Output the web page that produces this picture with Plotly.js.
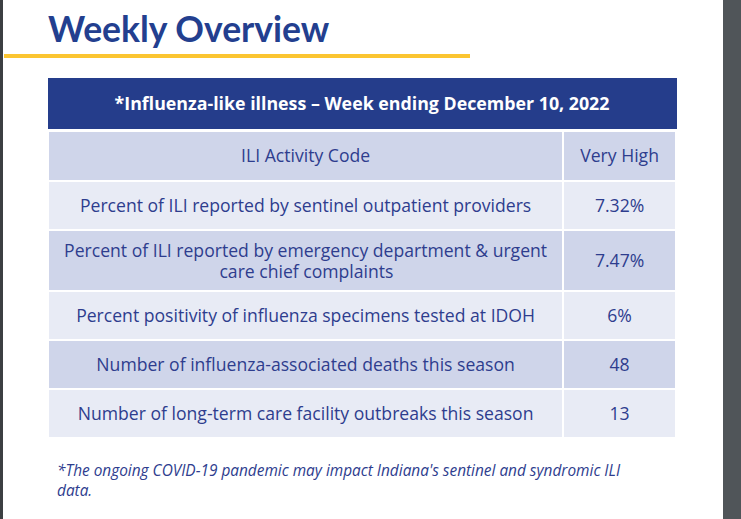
<!DOCTYPE html>
<html>
<head>
<meta charset="utf-8">
<script src="https://cdn.plot.ly/plotly-3.0.1.min.js"></script>
<style>html,body{margin:0;padding:0;background:#fff;}#chart{width:741px;height:519px;}</style>
</head>
<body>
<div id="chart"></div>
<script>
const pageTitle = "Weekly Overview";
const tableTitle = "*Influenza-like illness – Week ending December 10, 2022";
const headerLabels = ["ILI Activity Code", "Very High"];
const indicators = [
  "Percent of ILI reported by sentinel outpatient providers",
  "Percent of ILI reported by emergency department &amp; urgent<br>" + "\u00A0".repeat(34) + "care chief complaints",
  "Percent positivity of influenza specimens tested at IDOH",
  "Number of influenza-associated deaths this season",
  "Number of long-term care facility outbreaks this season"
];
const values = ["7.32%", "7.47%", "6%", "48", "13"];
const footnote = "*The ongoing COVID-19 pandemic may impact Indiana's sentinel and syndromic ILI<br>data.";

const W = 741, H = 519;
const px = x => x / W;
const py = y => 1 - y / H;

const dark = "#253d8b", rowA = "#cfd5ea", rowB = "#e8ebf5", txt = "#2e3d8e";
const font = "Open Sans, Noto Sans, sans-serif";
const FS = 17.6;
// a blank spacer line above the text lowers it to the middle of the cell (tables have no vertical centring)
const strut = '<span style="font-size:8px">' + "\u00A0".repeat(3) + '</span><br>';
const cellTxt = (s, size) => strut + '<span style="font-size:' + size + 'px">' + s + '</span>';
const plainTxt = (s, size) => '<span style="font-size:' + size + 'px">' + s + '</span><br>';
const isMulti = s => s.indexOf("<br>") >= 0;

const rowFills = indicators.map((_, i) => i % 2 === 0 ? rowB : rowA);
const col1Text = indicators.map(s => isMulti(s) ? plainTxt(s, FS) : cellTxt(s, FS));
const col1Size = indicators.map(s => isMulti(s) ? 16 : 10.9);
const col2Text = values.map(s => cellTxt(s, FS));
const col2Size = indicators.map(s => isMulti(s) ? 15.6 : 10.9);

const t1 = {
  type: "table",
  domain: {x: [px(48), px(677)], y: [py(129), py(78)]},
  columnwidth: [1],
  header: {
    values: [cellTxt("<b>" + tableTitle + "</b>", 17.8)],
    fill: {color: dark},
    line: {color: dark, width: 1},
    align: "center",
    height: 50,
    font: {family: font, size: 11.4, color: "#ffffff"}
  },
  cells: {values: [[]], height: 1}
};

const t2 = {
  type: "table",
  domain: {x: [px(48), px(677)], y: [py(442), py(131)]},
  columnwidth: [516, 113],
  header: {
    values: headerLabels.map(s => cellTxt(s, FS)),
    fill: {color: rowA},
    line: {color: "#ffffff", width: 2},
    align: "center",
    height: 50,
    font: {family: font, size: 10.5, color: txt}
  },
  cells: {
    values: [col1Text, col2Text],
    fill: {color: [rowFills, rowFills]},
    line: {color: "#ffffff", width: 2},
    align: "center",
    height: 49,
    font: {family: font, size: [col1Size, col2Size], color: txt}
  }
};

const layout = {
  width: W, height: H,
  margin: {l: 0, r: 0, t: 0, b: 0},
  paper_bgcolor: "#ffffff",
  showlegend: false,
  shapes: [
    {type: "rect", xref: "paper", yref: "paper", x0: 0, x1: px(3), y0: 0, y1: 1, fillcolor: "#3c3f42", line: {width: 0}},
    {type: "rect", xref: "paper", yref: "paper", x0: px(723), x1: 1, y0: 0, y1: 1, fillcolor: "#505559", line: {width: 0}},
    {type: "rect", xref: "paper", yref: "paper", x0: px(4), x1: px(470), y0: py(58), y1: py(54), fillcolor: "#fbc531", line: {width: 0}}
  ],
  annotations: [
    {xref: "paper", yref: "paper", x: px(46), y: py(5), xanchor: "left", yanchor: "top", showarrow: false,
     text: "<b>" + pageTitle + "</b>", font: {family: "Lato, sans-serif", size: 35.5, color: "#233f8f"}},
    {xref: "paper", yref: "paper", x: px(55), y: py(458), xanchor: "left", yanchor: "top", showarrow: false, align: "left",
     text: "<i>" + footnote + "</i>", font: {family: font, size: 15.4, color: "#2e3d8e"}}
  ]
};

Plotly.newPlot("chart", [t1, t2], layout, {displayModeBar: false, staticPlot: true});
</script>
</body>
</html>
